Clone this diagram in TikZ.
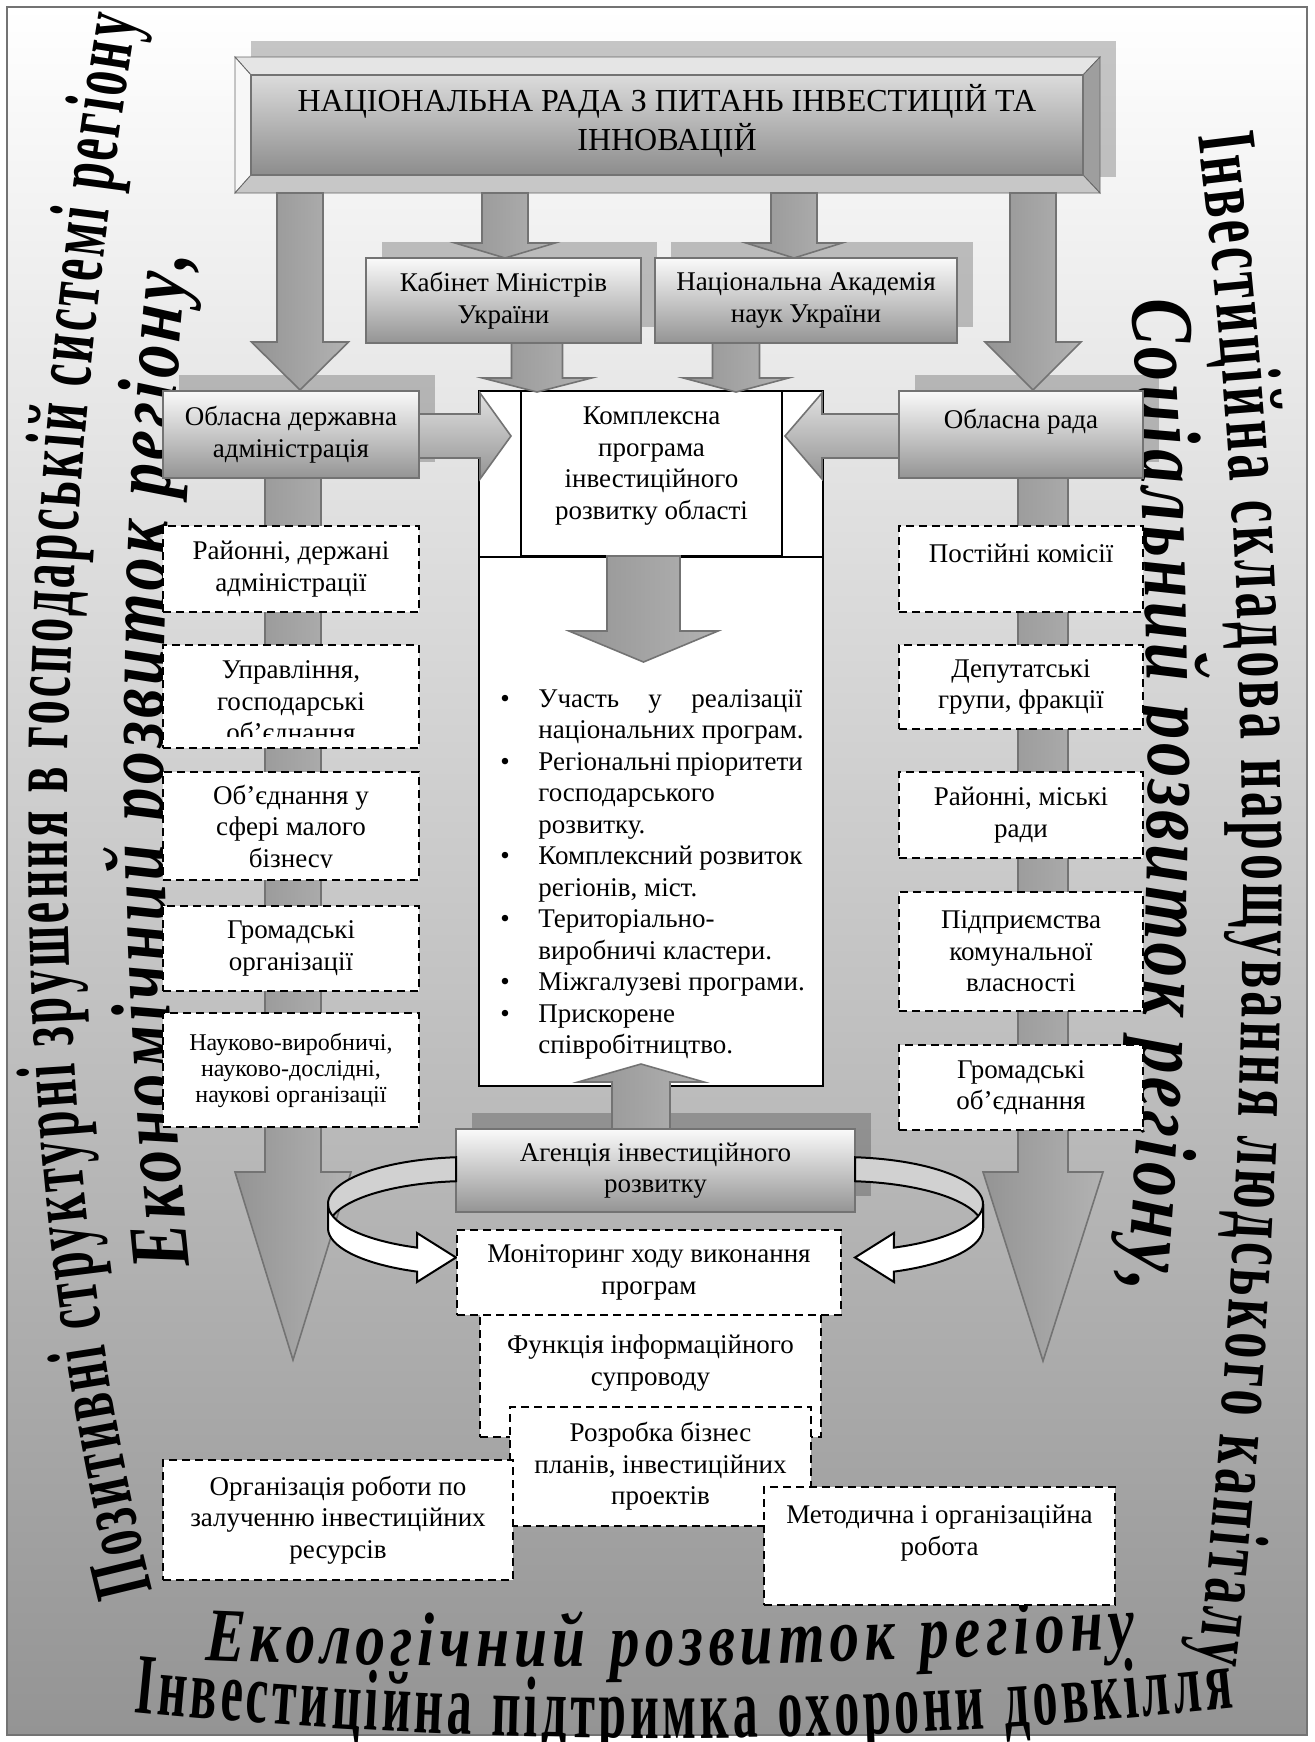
\documentclass[tikz,border=0pt]{standalone}
\usepackage{fontspec}
\setmainfont{Liberation Serif}
\newfontfamily\wordA[FakeStretch=0.58]{Liberation Serif}
\newfontfamily\wordC[FakeStretch=0.62]{Liberation Serif}
\newfontfamily\wordI[FakeStretch=0.78]{Liberation Serif}
\usetikzlibrary{decorations.text,shadows}
\newcommand\bxf{\fontsize{13.5}{15.8}\selectfont}
% vertical block arrow: [style]{cx}{y0}{yhead}{shaft half}{head half}{ytip}
\newcommand\vblock[7][barrow]{\path[#1] ({#2-#5},#3) -- ({#2+#5},#3) -- ({#2+#5},#4) -- ({#2+#6},#4) -- (#2,#7) -- ({#2-#6},#4) -- ({#2-#5},#4) -- cycle;}
% horizontal block arrow: [style]{cy}{x0}{xhead}{shaft half}{head half}{xtip}
\newcommand\hblock[7][harrowst]{\path[#1] (#3,{#2-#5}) -- (#4,{#2-#5}) -- (#4,{#2-#6}) -- (#7,#2) -- (#4,{#2+#6}) -- (#4,{#2+#5}) -- (#3,{#2+#5}) -- cycle;}
% ring arrow: {cx}{sign}
\newcommand\ringarrow[2]{%
  \filldraw[ringback] plot[domain=95.66:180, samples=30, variable=\t] ({#1+(#2)*142*cos(\t)},{1204-47*sin(\t)})
    -- plot[domain=180:95.66, samples=30, variable=\t] ({#1+(#2)*142*cos(\t)},{1228-47*sin(\t)}) -- cycle;
  \filldraw[ringfront] plot[domain=180:248.1, samples=30, variable=\t] ({#1+(#2)*142*cos(\t)},{1204-47*sin(\t)})
    -- ({#1+(#2)*(-53)},1233) -- ({#1+(#2)*(-14)},1257.5) -- ({#1+(#2)*(-53)},1282)
    -- plot[domain=248.1:180, samples=30, variable=\t] ({#1+(#2)*142*cos(\t)},{1228-47*sin(\t)}) -- cycle;}
\begin{document}
\begin{tikzpicture}[x=0.5pt,y=-0.5pt,
  gbox/.style={draw=black!55, line width=1pt, top color=black!2, bottom color=black!42, inner sep=0pt, align=center, font=\bxf},
  dbox/.style={draw=black, fill=white, line width=1pt, dash pattern=on 4pt off 2.5pt, inner sep=0pt, align=center, font=\bxf},
  shd/.style={drop shadow={shadow xshift=8pt, shadow yshift=8pt, fill=black, opacity=0.22}},
  barrow/.style={draw=black!55, line width=0.8pt, left color=black!42, middle color=black!12, right color=black!30},
  harrowst/.style={draw=black!55, line width=0.8pt, top color=black!12, bottom color=black!42},
  ringback/.style={draw=black, line width=1pt, fill=black!18},
  ringfront/.style={draw=black, line width=1pt, fill=white},
  txt/.style={inner sep=0pt, align=center, font=\bxf},
]
\useasboundingbox (0,0) rectangle (1314,1742);
\clip (0,0) rectangle (1314,1742);
\fill[white] (0,0) rectangle (1314,1742);
\shade[top color=white, middle color=black!17, bottom color=black!42] (7,7) rectangle (1307,1735);
\draw[black!55, line width=1pt] (7,7) rectangle (1307,1735);

% ---- big curved texts
\path[decorate, decoration={text along path, text align={fit to path},
  text={|\wordA\bfseries\fontsize{42}{42}\selectfont|Позитивні структурні зрушення в господарській системі регіону}}]
  (153,1590) .. controls (44,1153) and (39,630) .. (137,20);
\path[decorate, decoration={text along path, text align={fit to path},
  text={|\wordI\bfseries\itshape\fontsize{42}{42}\selectfont|Економічний розвиток регіону,}}]
  (190,1265) .. controls (155,928) and (154,592) .. (188,255);
\path[decorate, decoration={text along path, text align={fit to path},
  text={|\wordC\bfseries\fontsize{42}{42}\selectfont|Інвестиційна складова нарощування людського капіталу}}]
  (1198,135) .. controls (1258,618) and (1258,1128) .. (1198,1662);
\path[decorate, decoration={text along path, text align={fit to path},
  text={|\wordI\bfseries\itshape\fontsize{44}{44}\selectfont|Соціальний розвиток регіону,}}]
  (1131,300) .. controls (1155,630) and (1154,960) .. (1126,1290);
\path[decorate, decoration={text along path, text align={fit to path},
  text={|\wordI\bfseries\itshape\fontsize{38}{38}\selectfont|Екологічний розвиток регіону}}]
  (205,1660) .. controls (488,1672) and (798,1668) .. (1135,1648);
\path[decorate, decoration={text along path, text align={fit to path},
  text={|\wordA\bfseries\fontsize{43}{43}\selectfont|Інвестиційна підтримка охорони довкілля}}]
  (133,1712) .. controls (496,1748) and (862,1747) .. (1233,1708);

% ---- column arrows (behind the dashed boxes)
\vblock{293}{478}{1172}{28}{58}{1360}
\vblock{1043}{478}{1172}{25}{60}{1361}

% ---- header
\fill[black, opacity=0.22] (251,41) rectangle (1116,177);
\filldraw[draw=black!60, fill=black!10] (235,57) -- (1100,57) -- (1083,75) -- (251,75) -- cycle;
\filldraw[draw=black!60, fill=black!3] (235,57) -- (251,75) -- (251,175) -- (235,193) -- cycle;
\filldraw[draw=black!60, fill=black!38] (1100,57) -- (1083,75) -- (1083,175) -- (1100,193) -- cycle;
\filldraw[draw=black!60, fill=black!22] (235,193) -- (251,175) -- (1083,175) -- (1100,193) -- cycle;
\node[gbox, top color=black!14, bottom color=black!45, minimum width=416pt, minimum height=50pt] (hdr) at (667,125) {};
\node[txt, font=\fontsize{16}{19.5}\selectfont] (hdrt) at (667,121) {НАЦІОНАЛЬНА РАДА З ПИТАНЬ ІНВЕСТИЦІЙ ТА\\ІННОВАЦІЙ};

% ---- second level
\node[gbox, shd, minimum width=137.5pt, minimum height=42.5pt] (kab) at (503.5,300.5) {Кабінет Міністрів\\України};
\node[gbox, shd, minimum width=151pt, minimum height=42.5pt] (nan) at (806,300.5) {Національна Академія\\наук України};
\node[gbox, shd, minimum width=128pt, minimum height=43.5pt] (oda) at (291,434.5) {Обласна державна\\адміністрація};
\node[gbox, shd, minimum width=122pt, minimum height=43.5pt] (orada) at (1021,434.5) {Обласна рада\\~};

% ---- complex programme box
\node[draw=black, fill=white, line width=1pt, minimum width=172pt, minimum height=347.5pt, inner sep=0pt] (kp) at (651,738.5) {};
\node[draw=black, line width=1pt, minimum width=130.5pt, minimum height=82.5pt, inner sep=0pt] (kph) at (651.5,473.5) {};
\draw[line width=1pt] (kp.west |- kph.south) -- (kp.east |- kph.south);
\node[txt, font=\fontsize{13.5}{15.7}\selectfont] (kpt) at (651.5,466) {Комплексна\\програма\\інвестиційного\\розвитку області};
\vblock{643.5}{556}{631}{36.5}{74.5}{662}
\node[anchor=north west, inner sep=0pt, align=left, font=\fontsize{13.5}{15.75}\selectfont] (blist) at (500,689) {%
\makebox[19pt][l]{\textbullet}\makebox[132pt][s]{Участь у реалізації}\\
\hspace*{19pt}національних програм.\\
\makebox[19pt][l]{\textbullet}\makebox[132pt][s]{Регіональні пріоритети}\\
\hspace*{19pt}господарського\\
\hspace*{19pt}розвитку.\\
\makebox[19pt][l]{\textbullet}\makebox[132pt][s]{Комплексний розвиток}\\
\hspace*{19pt}регіонів, міст.\\
\makebox[19pt][l]{\textbullet}Територіально-\\
\hspace*{19pt}виробничі кластери.\\
\makebox[19pt][l]{\textbullet}Міжгалузеві програми.\\
\makebox[19pt][l]{\textbullet}Прискорене\\
\hspace*{19pt}співробітництво.};

% ---- arrows of the upper part
\vblock{300}{193}{342}{23}{48.5}{390}
\vblock{505}{193}{243}{23}{50}{258}
\vblock{794}{193}{243}{23}{48}{258}
\vblock{1033}{193}{342}{23}{48}{390}
\vblock{537}{343}{378}{25.5}{54.5}{392}
\vblock{736}{343}{378}{23.5}{52.5}{392}
\hblock{436}{419}{480}{22}{43}{511}
\hblock{436}{899}{822}{22}{43}{785}

% ---- left column
\node[dbox, minimum width=128pt, minimum height=43pt] (l1) at (291,569) {Районні, держані\\адміністрації};
\node[dbox, minimum width=128pt, minimum height=51.5pt] (l2) at (291,696.5) {};
\begin{scope}
\clip (165,647) rectangle (417,736);
\node[txt] (l2t) at (291,704) {Управління,\\господарські\\об’єднання};
\end{scope}
\node[dbox, minimum width=128pt, minimum height=54pt] (l3) at (291,826) {};
\begin{scope}
\clip (165,774) rectangle (417,867);
\node[txt] (l3t) at (291,829) {Об’єднання у\\сфері малого\\бізнесу};
\end{scope}
\node[dbox, minimum width=128pt, minimum height=42.5pt] (l4) at (291,948.5) {Громадські\\організації};
\node[dbox, minimum width=128pt, minimum height=57pt, font=\fontsize{12}{13}\selectfont] (l5) at (291,1070) {Науково-виробничі,\\науково-дослідні,\\наукові організації};

% ---- right column
\node[dbox, minimum width=122pt, minimum height=43pt] (r1) at (1021,569) {Постійні комісії\\~};
\node[dbox, minimum width=122pt, minimum height=42pt] (r2) at (1021,687) {Депутатські\\групи, фракції};
\node[dbox, minimum width=122pt, minimum height=43pt] (r3) at (1021,815) {Районні, міські\\ради};
\node[dbox, minimum width=122pt, minimum height=59.5pt] (r4) at (1021,951.5) {Підприємства\\комунальної\\власності};
\node[dbox, minimum width=122pt, minimum height=42.5pt] (r5) at (1021,1087.5) {Громадські\\об’єднання};

% ---- agency
\node[gbox, shd, minimum width=199.5pt, minimum height=41.5pt] (ag) at (655.5,1170.5) {Агенція інвестиційного\\розвитку};
\vblock{641}{1129}{1082}{29}{63}{1064}
\ringarrow{470}{1}
\ringarrow{841}{-1}

% ---- lower boxes
\node[dbox, minimum width=192pt, minimum height=42.5pt] (mon) at (649,1272.5) {Моніторинг ходу виконання\\програм};
\node[dbox, minimum width=170.5pt, minimum height=61pt] (fun) at (650.5,1376) {Функція інформаційного\\супроводу\\~};
\node[dbox, minimum width=150.5pt, minimum height=59.5pt] (roz) at (660.5,1466.5) {Розробка бізнес\\планів, інвестиційних\\проектів};
\node[dbox, minimum width=175pt, minimum height=60pt] (org) at (338,1520) {Організація роботи по\\залученню інвестиційних\\ресурсів};
\node[dbox, minimum width=175.5pt, minimum height=59pt] (met) at (939.5,1546) {Методична і організаційна\\робота\\~};
\end{tikzpicture}
\end{document}
